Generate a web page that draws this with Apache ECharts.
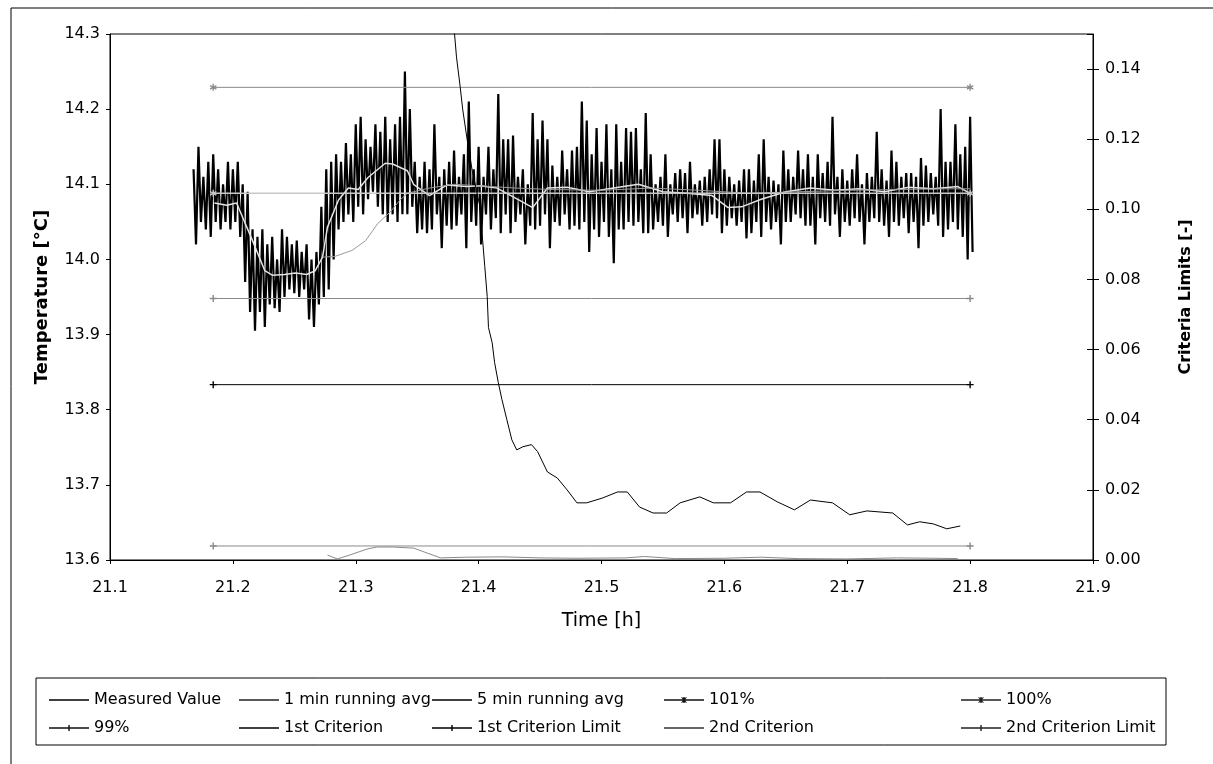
<!DOCTYPE html>
<html>
<head>
<meta charset="utf-8">
<script src="https://cdn.jsdelivr.net/npm/echarts@6/dist/echarts.min.js"></script>
<style>
  html, body { margin: 0; padding: 0; background: #fff; }
  #chart { width: 1213px; height: 764px; }
</style>
</head>
<body>
<div id="chart"></div>
<script>
// measured temperature, sampled every dt hours from t0: upper and lower swing of each sample pair
const t0 = 21.168
const dt = 0.004
const measuredHi = [
  14.12, 14.15, 14.11, 14.13, 14.14, 14.12, 14.10, 14.13, 14.12, 14.13,
  14.10, 14.09, 14.04,
  14.03, 14.04, 14.02, 14.03, 14.00, 14.04, 14.03, 14.02, 14.025, 14.01, 14.02, 14.00, 14.01,
  14.07, 14.12, 14.13,
  14.14, 14.13, 14.155, 14.14, 14.18, 14.19, 14.16, 14.15, 14.18, 14.17, 14.19, 14.16, 14.18, 14.19,
  14.25, 14.20,
  14.13, 14.11, 14.13, 14.12, 14.18, 14.11, 14.12, 14.13, 14.145, 14.11, 14.14, 14.21, 14.12, 14.15, 14.11,
  14.15, 14.12, 14.22, 14.16, 14.16, 14.165, 14.11, 14.12, 14.10, 14.195, 14.16, 14.185, 14.16, 14.125,
  14.11, 14.145, 14.12, 14.145, 14.15,
  14.21, 14.185, 14.14, 14.175, 14.13, 14.18, 14.12, 14.18, 14.13, 14.175, 14.17, 14.175, 14.12, 14.195, 14.14,
  14.10, 14.11, 14.14, 14.10, 14.115, 14.12, 14.115, 14.13, 14.10, 14.105, 14.11, 14.12, 14.16, 14.16,
  14.12, 14.11, 14.10, 14.105, 14.12, 14.12, 14.105, 14.14, 14.16, 14.11, 14.105,
  14.10, 14.145, 14.12, 14.11, 14.145, 14.12, 14.14, 14.11, 14.14, 14.115, 14.13, 14.19, 14.11, 14.12,
  14.105, 14.12, 14.14, 14.10, 14.115, 14.11, 14.17, 14.12, 14.105, 14.145, 14.13, 14.11, 14.115, 14.115,
  14.11, 14.135, 14.125, 14.115, 14.11, 14.20, 14.13, 14.13, 14.18, 14.14, 14.15, 14.19
]
const measuredLo = [
  14.02, 14.05, 14.04, 14.03, 14.05, 14.04, 14.05, 14.04, 14.05, 14.03,
  13.97, 13.93, 13.905,
  13.93, 13.91, 13.94, 13.935, 13.93, 13.95, 13.96, 13.955, 13.95, 13.96, 13.92, 13.91, 13.94,
  13.95, 13.96, 14.00,
  14.04, 14.05, 14.06, 14.05, 14.07, 14.06, 14.08, 14.09, 14.07, 14.06, 14.05, 14.06, 14.05, 14.06,
  14.06, 14.07,
  14.035, 14.04, 14.035, 14.04, 14.06, 14.015, 14.045, 14.04, 14.045, 14.06, 14.015, 14.05, 14.045, 14.02, 14.06,
  14.04, 14.055, 14.035, 14.06, 14.035, 14.05, 14.06, 14.02, 14.045, 14.04, 14.045, 14.06, 14.015, 14.05,
  14.045, 14.06, 14.04, 14.045, 14.04,
  14.05, 14.01, 14.04, 14.03, 14.05, 14.03, 13.995, 14.04, 14.04, 14.05, 14.045, 14.05, 14.035, 14.035, 14.04,
  14.05, 14.045, 14.03, 14.06, 14.05, 14.055, 14.035, 14.055, 14.06, 14.045, 14.05, 14.06, 14.055, 14.035,
  14.045, 14.055, 14.045, 14.05, 14.028, 14.035, 14.05, 14.03, 14.05, 14.04, 14.05,
  14.02, 14.05, 14.05, 14.06, 14.055, 14.045, 14.045, 14.02, 14.055, 14.05, 14.045, 14.06, 14.03, 14.05,
  14.045, 14.055, 14.05, 14.02, 14.05, 14.055, 14.05, 14.045, 14.03, 14.05, 14.045, 14.055, 14.035, 14.05,
  14.015, 14.045, 14.05, 14.06, 14.045, 14.03, 14.04, 14.05, 14.04, 14.03, 14.00, 14.01
]

// running averages [time h, temperature]
const avg1min = [
  [21.185, 14.075], [21.195, 14.072], [21.203, 14.075], [21.216, 14.025], [21.226, 13.985],
  [21.232, 13.979], [21.242, 13.98], [21.251, 13.982], [21.26, 13.98], [21.267, 13.985],
  [21.273, 14.003], [21.277, 14.043], [21.286, 14.079], [21.294, 14.095], [21.302, 14.093],
  [21.31, 14.109], [21.324, 14.128], [21.33, 14.127], [21.342, 14.118], [21.347, 14.10],
  [21.36, 14.085], [21.374, 14.099], [21.39, 14.097], [21.401, 14.098], [21.415, 14.095],
  [21.433, 14.079], [21.444, 14.069], [21.456, 14.095], [21.472, 14.096], [21.49, 14.09],
  [21.51, 14.095], [21.53, 14.10], [21.55, 14.09], [21.57, 14.088], [21.59, 14.085],
  [21.603, 14.069], [21.614, 14.07], [21.63, 14.08], [21.65, 14.09], [21.67, 14.095],
  [21.69, 14.092], [21.71, 14.094], [21.73, 14.09], [21.75, 14.096], [21.77, 14.094],
  [21.79, 14.097], [21.80, 14.088]
]
const avg5min = [
  [21.273, 14.003], [21.283, 14.004], [21.297, 14.012], [21.308, 14.025], [21.318, 14.048],
  [21.328, 14.063], [21.336, 14.079], [21.342, 14.088], [21.36, 14.095], [21.38, 14.10],
  [21.40, 14.098], [21.43, 14.095], [21.46, 14.093], [21.50, 14.092], [21.54, 14.095],
  [21.58, 14.092], [21.62, 14.088], [21.66, 14.09], [21.70, 14.092], [21.74, 14.093],
  [21.78, 14.094], [21.80, 14.094]
]

// reference levels
const levelTimes = [21.184, 21.80]
const level101 = 14.229
const level100 = 14.088
const level99 = 13.948
const limit1 = 0.05
const limit2 = 0.004

// criteria (right axis) [time h, value]
const crit1 = [
  [21.378, 0.16], [21.382, 0.1434], [21.385, 0.1349], [21.387, 0.1286], [21.391, 0.1191],
  [21.395, 0.1106], [21.401, 0.1009], [21.405, 0.0837], [21.407, 0.0751], [21.408, 0.0663],
  [21.411, 0.062], [21.413, 0.0563], [21.416, 0.0506], [21.419, 0.0457], [21.423, 0.04],
  [21.427, 0.0343], [21.431, 0.0314], [21.436, 0.0323], [21.443, 0.0329], [21.448, 0.0309],
  [21.456, 0.0251], [21.464, 0.0234], [21.472, 0.02], [21.48, 0.0163], [21.488, 0.0163],
  [21.501, 0.0177], [21.513, 0.0194], [21.521, 0.0194], [21.531, 0.0151], [21.542, 0.0134],
  [21.553, 0.0134], [21.564, 0.0163], [21.58, 0.018], [21.591, 0.0163], [21.605, 0.0163],
  [21.618, 0.0194], [21.629, 0.0194], [21.643, 0.0166], [21.657, 0.0143], [21.67, 0.0171],
  [21.688, 0.0163], [21.702, 0.0129], [21.716, 0.014], [21.737, 0.0134], [21.749, 0.01],
  [21.759, 0.0109], [21.77, 0.0103], [21.781, 0.0089], [21.792, 0.0097]
]
const crit2 = [
  [21.277, 0.0014], [21.285, 0.0003], [21.295, 0.0014], [21.309, 0.0031], [21.317, 0.0037],
  [21.33, 0.0037], [21.347, 0.0034], [21.358, 0.002], [21.369, 0.0006], [21.39, 0.0008],
  [21.42, 0.0009], [21.45, 0.0006], [21.48, 0.0005], [21.52, 0.0006], [21.535, 0.001],
  [21.56, 0.0004], [21.6, 0.0005], [21.63, 0.0008], [21.66, 0.0004], [21.7, 0.0003],
  [21.74, 0.0006], [21.77, 0.0005], [21.79, 0.0004]
]

const FONT = 'DejaVu Sans'
const plusSym = 'path://M0,4L10,4L10,6L0,6Z M4,0L6,0L6,10L4,10Z'
const starSym = 'path://M4,0L6,0L6,3.3L9,1.6L10,3.3L7,5L10,6.7L9,8.4L6,6.7L6,10L4,10L4,6.7L1,8.4L0,6.7L3,5L0,3.3L1,1.6L4,3.3Z'
// legend icons: plain line, line with a plus, line with a star
const iconLine = 'path://M0,4.2H40V5.8H0Z'
const iconPlus = 'path://M0,4.2H40V5.8H0Z M19.3,2H20.7V8H19.3Z'
const iconStar = 'path://M0,4.2H40V5.8H0Z M19.3,2H20.7V8H19.3Z M17.2,2.6L18,2L22.8,7.4L22,8Z M17.2,7.4L22,2L22.8,2.6L18,8Z'

function measuredPoints() {
  const pts = []
  const n = Math.min(measuredHi.length, measuredLo.length)
  for (let i = 0; i < n; i++) {
    const t = t0 + i * dt
    pts.push([t, measuredHi[i]])
    pts.push([t + dt / 2, measuredLo[i]])
  }
  return pts
}

function level(v) {
  return levelTimes.map(t => [t, v])
}

function lineSeries(name, data, color, opts) {
  return Object.assign({
    name: name,
    type: 'line',
    data: data,
    symbol: 'none',
    animation: false,
    lineStyle: { color: color, width: 1 },
    itemStyle: { color: color },
    emphasis: { disabled: true }
  }, opts || {})
}

function legendItem(name, icon, color) {
  return { name: name, icon: icon, itemStyle: { color: color } }
}

const chart = echarts.init(document.getElementById('chart'), null, { renderer: 'canvas' })

const rightAxisBase = { type: 'value', position: 'right', min: 0, max: 0.15, interval: 0.02, splitLine: { show: false } }

const option = {
  backgroundColor: '#fff',
  animation: false,
  textStyle: { fontFamily: FONT, color: '#000' },
  grid: {
    left: 110, right: 120, top: 34, bottom: 204,
    show: true, borderColor: '#000', borderWidth: 1, backgroundColor: '#fff'
  },
  graphic: [
    { type: 'rect', shape: { x: 11, y: 8, width: 1400, height: 900 }, style: { fill: 'none', stroke: '#000', lineWidth: 1 }, silent: true, z: -1 },
    { type: 'rect', shape: { x: 36, y: 678, width: 1130, height: 67 }, style: { fill: 'none', stroke: '#000', lineWidth: 1 }, silent: true }
  ],
  legend: [
    { data: [legendItem('Measured Value', iconLine, '#000'), legendItem('99%', iconPlus, '#111')], left: 44 },
    { data: [legendItem('1 min running avg', iconLine, '#222'), legendItem('1st Criterion', iconLine, '#000')], left: 234 },
    { data: [legendItem('5 min running avg', iconLine, '#000'), legendItem('1st Criterion Limit', iconPlus, '#000')], left: 427 },
    { data: [legendItem('101%', iconStar, '#111'), legendItem('2nd Criterion', iconLine, '#333')], left: 659 },
    { data: [legendItem('100%', iconStar, '#222'), legendItem('2nd Criterion Limit', iconPlus, '#222')], left: 956 }
  ].map(l => Object.assign({
    orient: 'vertical', top: 687, itemGap: 12, itemWidth: 40, itemHeight: 14,
    symbolKeepAspect: true, selectedMode: false,
    textStyle: { fontFamily: FONT, fontSize: 16, color: '#000' }
  }, l)),
  xAxis: {
    type: 'value', min: 21.1, max: 21.9, interval: 0.1,
    name: 'Time [h]', nameLocation: 'middle', nameGap: 52,
    nameTextStyle: { fontFamily: FONT, fontSize: 19, color: '#000' },
    axisLine: { onZero: false, lineStyle: { color: '#000' } },
    axisTick: { length: 4, lineStyle: { color: '#000' } },
    axisLabel: { margin: 20, fontFamily: FONT, fontSize: 16, color: '#000', formatter: v => v.toFixed(1) },
    splitLine: { show: false }
  },
  yAxis: [
    {
      type: 'value', min: 13.6, max: 14.3, interval: 0.1,
      name: 'Temperature [°C]', nameLocation: 'middle', nameGap: 59,
      nameTextStyle: { fontFamily: FONT, fontSize: 18, fontWeight: 'bold', color: '#000' },
      axisLine: { show: true, lineStyle: { color: '#000' } },
      axisTick: { show: true, length: 4, lineStyle: { color: '#000' } },
      axisLabel: { margin: 10, fontFamily: FONT, fontSize: 16, color: '#000', formatter: v => v.toFixed(1) },
      splitLine: { show: false }
    },
    Object.assign({}, rightAxisBase, {
      name: 'Criteria Limits [-]', nameLocation: 'middle', nameGap: 85, nameRotate: 90,
      nameTextStyle: { fontFamily: FONT, fontSize: 16, fontWeight: 'bold', color: '#000' },
      axisLine: { show: true, lineStyle: { color: '#000' } },
      axisTick: { show: true, length: 6, lineStyle: { color: '#000' } },
      axisLabel: { margin: 12, showMaxLabel: false, fontFamily: FONT, fontSize: 16, color: '#000', formatter: v => v.toFixed(2) }
    }),
    // inner half of the crossing ticks on the right axis
    Object.assign({}, rightAxisBase, {
      axisLine: { show: false },
      axisTick: { show: true, inside: true, length: 6, lineStyle: { color: '#000' } },
      axisLabel: { show: false }
    })
  ],
  series: [
    lineSeries('Measured Value', measuredPoints(), '#000', { lineStyle: { color: '#000', width: 2.2 } }),
    lineSeries('1 min running avg', avg1min, '#e4e4e4', { lineStyle: { color: '#e4e4e4', width: 1.5 } }),
    lineSeries('5 min running avg', avg5min, '#9a9a9a'),
    lineSeries('101%', level(level101), '#8a8a8a', { symbol: starSym, symbolSize: 7 }),
    lineSeries('100%', level(level100), '#c8c8c8', { symbol: starSym, symbolSize: 7, lineStyle: { color: '#c8c8c8', width: 1.5 } }),
    lineSeries('99%', level(level99), '#8a8a8a', { symbol: plusSym, symbolSize: 7 }),
    lineSeries('1st Criterion', crit1, '#000', { yAxisIndex: 1 }),
    lineSeries('1st Criterion Limit', level(limit1), '#000', { yAxisIndex: 1, symbol: plusSym, symbolSize: 7 }),
    lineSeries('2nd Criterion', crit2, '#8a8a8a', { yAxisIndex: 1 }),
    lineSeries('2nd Criterion Limit', level(limit2), '#8a8a8a', { yAxisIndex: 1, symbol: plusSym, symbolSize: 7 })
  ]
}

chart.setOption(option)
</script>
</body>
</html>
